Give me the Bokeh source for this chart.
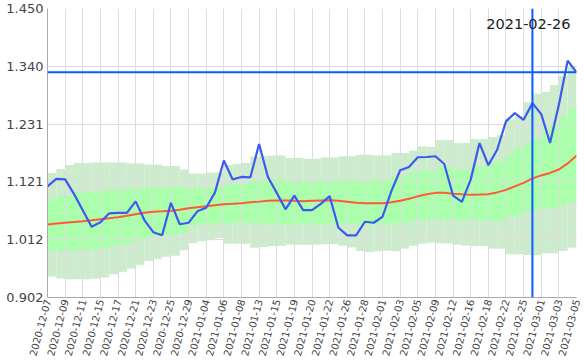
import math
from bokeh.plotting import figure
from bokeh.models import ColumnDataSource, FixedTicker, Span, Label, NumeralTickFormatter, Range1d
from bokeh.embed import file_html
from bokeh.resources import INLINE

tick_labels = ["2020-12-07", "2020-12-09", "2020-12-11", "2020-12-15", "2020-12-17", "2020-12-21",
               "2020-12-23", "2020-12-25", "2020-12-29", "2021-01-04", "2021-01-06", "2021-01-08",
               "2021-01-13", "2021-01-15", "2021-01-19", "2021-01-20", "2021-01-22", "2021-01-26",
               "2021-01-28", "2021-02-01", "2021-02-03", "2021-02-05", "2021-02-09", "2021-02-12",
               "2021-02-16", "2021-02-18", "2021-02-22", "2021-02-25", "2021-03-01", "2021-03-03",
               "2021-03-05"]

price = [1.1127, 1.1269, 1.1259, 1.0985, 1.0673, 1.0362, 1.0447, 1.0617, 1.0626, 1.0626,
         1.0843, 1.0484, 1.0258, 1.0201, 1.0815, 1.0409, 1.0437, 1.0654, 1.0721, 1.1013,
         1.1618, 1.1259, 1.1306, 1.1297, 1.1930, 1.1306, 1.1004, 1.0692, 1.0953, 1.0677,
         1.0677, 1.0796, 1.0942, 1.0343, 1.0197, 1.0197, 1.0456, 1.0437, 1.0551, 1.1036,
         1.1433, 1.1495, 1.1679, 1.1684, 1.1698, 1.1552, 1.0953, 1.0834, 1.1255, 1.1949,
         1.1528, 1.1822, 1.2359, 1.2516, 1.2389, 1.2705, 1.2497, 1.1949, 1.2673, 1.3512,
         1.3290]

ma = [1.0405, 1.0422, 1.0437, 1.0452, 1.0466, 1.0484, 1.0503, 1.0522, 1.0541, 1.0569,
      1.0598, 1.0626, 1.0645, 1.0654, 1.0664, 1.0683, 1.0711, 1.0730, 1.0749, 1.0768,
      1.0787, 1.0796, 1.0806, 1.0825, 1.0838, 1.0853, 1.0857, 1.0857, 1.0853, 1.0847,
      1.0853, 1.0859, 1.0862, 1.0853, 1.0834, 1.0815, 1.0806, 1.0806, 1.0809, 1.0828,
      1.0853, 1.0891, 1.0938, 1.0976, 1.1004, 1.1004, 1.0989, 1.0976, 1.0966, 1.0972,
      1.0980, 1.1013, 1.1061, 1.1127, 1.1193, 1.1278, 1.1335, 1.1382, 1.1448, 1.1562,
      1.1709]

outer_hi = [1.1382, 1.1458, 1.1533, 1.1571, 1.1571, 1.1580, 1.1580, 1.1580, 1.1580, 1.1562,
            1.1562, 1.1543, 1.1543, 1.1514, 1.1514, 1.1448, 1.1373, 1.1373, 1.1392, 1.1392,
            1.1533, 1.1552, 1.1571, 1.1694, 1.1698, 1.1713, 1.1717, 1.1666, 1.1666, 1.1652,
            1.1652, 1.1675, 1.1675, 1.1698, 1.1698, 1.1728, 1.1728, 1.1713, 1.1713, 1.1760,
            1.1760, 1.1803, 1.1887, 1.1873, 1.2006, 1.2006, 1.1949, 1.1949, 1.2025, 1.2025,
            1.2062, 1.2100, 1.2402, 1.2459, 1.2724, 1.2884, 1.2922, 1.3051, 1.3221, 1.3413]

inner_hi = [1.0878, 1.0942, 1.0942, 1.1004, 1.1017, 1.1023, 1.1042, 1.1048, 1.1061, 1.1066,
            1.1089, 1.1099, 1.1099, 1.1108, 1.1117, 1.1099, 1.1080, 1.1080, 1.1093, 1.1099,
            1.1155, 1.1161, 1.1174, 1.1250, 1.1255, 1.1274, 1.1274, 1.1240, 1.1236, 1.1225,
            1.1231, 1.1240, 1.1250, 1.1255, 1.1255, 1.1244, 1.1244, 1.1255, 1.1255, 1.1320,
            1.1325, 1.1382, 1.1433, 1.1414, 1.1476, 1.1476, 1.1444, 1.1444, 1.1509, 1.1509,
            1.1562, 1.1609, 1.1741, 1.1836, 1.1949, 1.2011, 1.2176, 1.2289, 1.2440, 1.2578]

inner_lo = [0.9918, 0.9908, 0.9927, 0.9918, 0.9927, 0.9946, 0.9965, 0.9997, 1.0021, 1.0072,
            1.0106, 1.0154, 1.0192, 1.0201, 1.0210, 1.0267, 1.0380, 1.0409, 1.0418, 1.0437,
            1.0418, 1.0447, 1.0447, 1.0428, 1.0428, 1.0418, 1.0418, 1.0409, 1.0409, 1.0409,
            1.0409, 1.0418, 1.0418, 1.0418, 1.0409, 1.0399, 1.0399, 1.0399, 1.0399, 1.0437,
            1.0437, 1.0475, 1.0494, 1.0500, 1.0500, 1.0500, 1.0500, 1.0500, 1.0488, 1.0488,
            1.0469, 1.0469, 1.0564, 1.0564, 1.0658, 1.0689, 1.0721, 1.0721, 1.0783, 1.0834]

outer_lo = [0.9417, 0.9379, 0.9366, 0.9366, 0.9366, 0.9379, 0.9398, 0.9460, 0.9506, 0.9568,
            0.9634, 0.9710, 0.9748, 0.9795, 0.9814, 0.9918, 1.0050, 1.0088, 1.0106, 1.0144,
            1.0040, 1.0040, 1.0040, 0.9965, 0.9978, 0.9993, 0.9997, 1.0021, 1.0021, 1.0021,
            1.0021, 1.0031, 1.0031, 1.0003, 0.9970, 0.9902, 0.9883, 0.9899, 0.9908, 0.9899,
            0.9946, 1.0003, 1.0040, 1.0059, 1.0050, 1.0046, 1.0021, 1.0008, 0.9997, 0.9997,
            0.9946, 0.9946, 0.9838, 0.9838, 0.9827, 0.9819, 0.9857, 0.9857, 0.9902, 0.9965]

y_ticks = [0.902, 1.0116, 1.1212, 1.2308, 1.3404, 1.450]
latest_value = 1.329
marker_label = "2021-02-26"
marker_index = 55

n = len(price)
xs = list(range(n))
tick_pos = [2 * k for k in range(len(tick_labels))]

p = figure(width=585, height=360, output_backend="svg", toolbar_location=None,
           x_range=Range1d(0, n - 1), y_range=Range1d(y_ticks[0], y_ticks[-1]),
           min_border_left=47, min_border_right=9, min_border_top=8, min_border_bottom=0)
p.outline_line_color = None
p.background_fill_color = "white"

band_src = ColumnDataSource(dict(left=xs[:-1], right=xs[1:],
                                 ohi=outer_hi, ihi=inner_hi, ilo=inner_lo, olo=outer_lo))
r1 = p.quad(left="left", right="right", bottom="olo", top="ohi", source=band_src,
            fill_color="#cdeccd", line_color=None)
r2 = p.quad(left="left", right="right", bottom="ilo", top="ihi", source=band_src,
            fill_color="#aaffaa", line_color=None)
r1.level = "image"
r2.level = "image"

p.line(xs, ma, line_color="#ff5a36", line_width=2)
p.line(xs, price, line_color="#3c5af0", line_width=2.2)

p.add_layout(Span(location=latest_value, dimension="width", line_color="#0a5cff", line_width=2))
p.add_layout(Span(location=marker_index, dimension="height", line_color="#0a5cff", line_width=2))
p.add_layout(Label(x=n - 1, y=y_ticks[-1], text=marker_label, text_align="right",
                   text_baseline="alphabetic", x_offset=-6, y_offset=-15,
                   text_font="DejaVu Sans", text_font_size="14.5px", text_color="#222222"))

p.xaxis.ticker = FixedTicker(ticks=tick_pos)
p.xaxis.major_label_overrides = {pos: lab for pos, lab in zip(tick_pos, tick_labels)}
p.xaxis.major_label_orientation = math.radians(75)
p.yaxis.ticker = FixedTicker(ticks=y_ticks)
p.yaxis.formatter = NumeralTickFormatter(format="0.000")
p.xgrid.ticker = FixedTicker(ticks=tick_pos)
p.ygrid.ticker = FixedTicker(ticks=y_ticks)
for g in (p.xgrid, p.ygrid):
    g.grid_line_color = "#dddddd"
    g.grid_line_width = 1

for ax in (p.xaxis, p.yaxis):
    ax.axis_line_color = "#aaaaaa"
    ax.major_tick_line_color = None
    ax.minor_tick_line_color = None
    ax.major_tick_out = 0
    ax.minor_tick_out = 0
    ax.major_label_text_font = "DejaVu Sans"
    ax.major_label_text_color = "#444444"
p.yaxis.major_label_text_font_size = "13px"
p.yaxis.major_label_standoff = 4
p.xaxis.major_label_text_font_size = "10px"
p.xaxis.major_label_standoff = 2

open("out.html", "w").write(file_html(p, INLINE))
